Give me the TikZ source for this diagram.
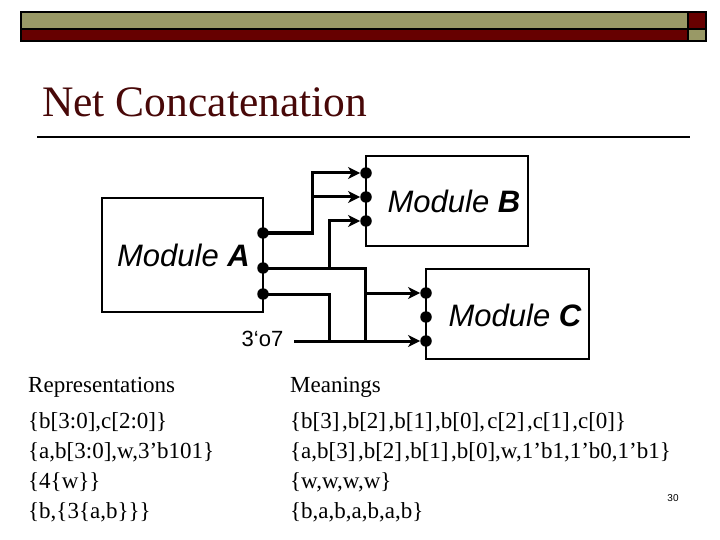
\documentclass[tikz,border=0pt]{standalone}
\usepackage{fontspec}
\setmainfont{Liberation Serif}
\newfontfamily\sansf{Liberation Sans}
\usetikzlibrary{arrows.meta}
\definecolor{olivebar}{RGB}{153,153,102}
\definecolor{redbar}{RGB}{102,0,0}
\definecolor{titlered}{RGB}{72,8,8}
\tikzset{
  module/.style={draw=black,line width=2pt,inner sep=0,fill=white},
  port/.style={circle,fill=black,inner sep=0,minimum size=11.5pt},
  wire/.style={line width=3pt},
  arr/.style={-{Stealth[length=12pt,width=12pt,inset=3.5pt]}},
  modlabel/.style={font=\sansf\itshape\fontsize{31}{36}\selectfont,inner sep=0},
  body/.style={font=\fontsize{23}{28}\selectfont,anchor=base west,inner sep=0},
}
\newcommand{\nsp}{\hspace{2.5pt}}
\begin{document}
\begin{tikzpicture}[x=1pt,y=-1pt]
\useasboundingbox (0,0) rectangle (720,540);
% top bars
\fill[olivebar] (21,12) rectangle (688,29);
\fill[redbar] (688,12) rectangle (706,29);
\fill[redbar] (21,29) rectangle (688,41);
\fill[olivebar] (688,29) rectangle (706,41);
\draw[line width=1.6pt] (21,12) rectangle (706,41);
\draw[line width=1.6pt] (21,29) -- (706,29);
\draw[line width=1.6pt] (688,12) -- (688,41);
% title
\node[anchor=base west,inner sep=0,text=titlered,font=\fontsize{43.5}{50}\selectfont] (title) at (42,117) {Net Concatenation};
\draw[line width=2pt] (37,137) -- (690,137);
% modules
\node[module,minimum width=161pt,minimum height=114pt] (A) at (182.5,255) {};
\node[module,minimum width=162pt,minimum height=90pt] (B) at (447,201) {};
\node[module,minimum width=163pt,minimum height=90pt] (C) at (507.5,314) {};
\node[modlabel] (la) at (183.5,255) {Module \textbf{A}};
\node[modlabel] (lb) at (454,201) {Module \textbf{B}};
\node[modlabel] (lc) at (515,315) {Module \textbf{C}};
% junction points
\coordinate (k1) at (312,173);
\coordinate (k2) at (312,197);
\coordinate (k3) at (329,268);
\coordinate (k4) at (365,341);
\coordinate (k5) at (365,293);
\coordinate (k6) at (329,341);
\coordinate (s0) at (294,341);
% ports
\node[port] (a1) at (263,233) {};
\node[port] (a2) at (263,268) {};
\node[port] (a3) at (263,294) {};
\node[port] (b1) at (366,173) {};
\node[port] (b2) at (366,197) {};
\node[port] (b3) at (366,221) {};
\node[port] (c1) at (426,293) {};
\node[port] (c2) at (426,317) {};
\node[port] (c3) at (426,341) {};
% constant source
\node[font=\sansf\fontsize{22}{26}\selectfont,inner sep=0] (src) at (262.5,339) {3‘o7};
% wires
\draw[wire,arr] (a1.center) -| (k1) -- (b1);
\draw[wire,arr] (k2) -- (b2);
\draw[wire,arr] (k3) |- (b3);
\draw[wire] (a2.center) -| (k4);
\draw[wire,arr] (k5) -- (c1);
\draw[wire] (a3.center) -| (k6);
\draw[wire,arr] (s0) -- (c3);
% table
\node[body] (rh) at (28,392) {Representations};
\node[body] (r1) at (28,428) {\{b[3:0],c[2:0]\}};
\node[body] (r2) at (28,458) {\{a,b[3:0],w,3’b101\}};
\node[body] (r3) at (28,488) {\{4\{w\}\}};
\node[body] (r4) at (28,518) {\{b,\{3\{a,b\}\}\}};
\node[body] (mh) at (290,392) {Meanings};
\node[body] (m1) at (290,428) {\{b[3]\nsp,b[2]\nsp,b[1]\nsp,b[0],\nsp c[2]\nsp,c[1]\nsp,c[0]\}};
\node[body] (m2) at (290,458) {\{a,b[3]\nsp,b[2]\nsp,b[1]\nsp,b[0],w,1’b1,1’b0,1’b1\}};
\node[body] (m3) at (290,488) {\{w,w,w,w\}};
\node[body] (m4) at (290,518) {\{b,a,b,a,b,a,b\}};
\node[font=\sansf\fontsize{10}{12}\selectfont,inner sep=0] (pg) at (673,498) {30};
\end{tikzpicture}
\end{document}
